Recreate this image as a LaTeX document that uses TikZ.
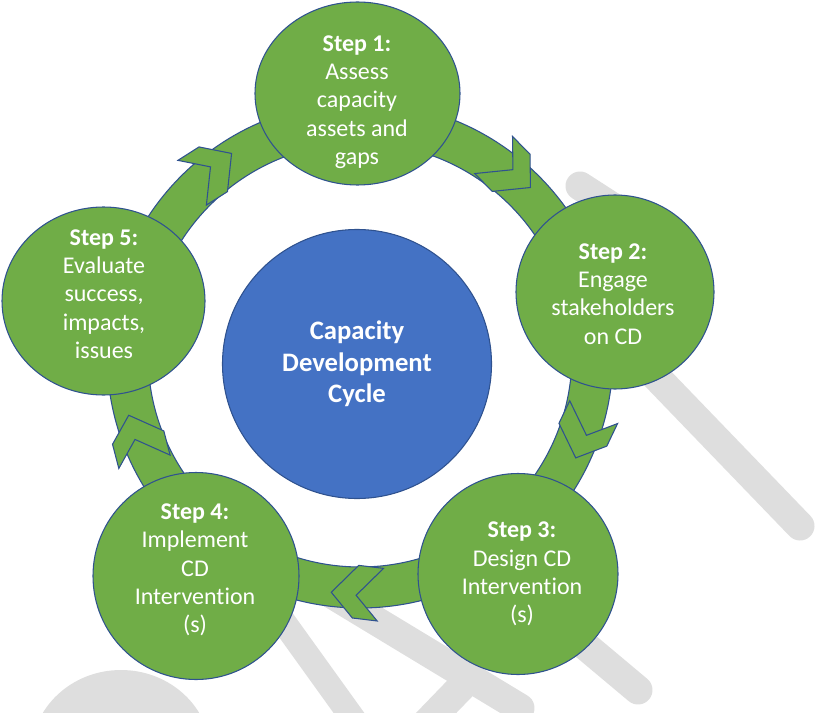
\documentclass[tikz,border=0pt]{standalone}
\usepackage{fontspec}
\setmainfont{Carlito}[Ligatures={NoCommon}]
\usetikzlibrary{calc, positioning}
\usetikzlibrary{shapes.geometric}

\definecolor{stepgreen}{RGB}{112,173,71}
\definecolor{cycleblue}{RGB}{68,114,196}
\definecolor{rimblue}{RGB}{47,82,143}
\definecolor{markgray}{RGB}{222,222,222}

\newlength\px
\setlength\px{0.75pt}

\tikzset{
  disk/.style={ellipse, draw=rimblue, fill=stepgreen, line width=0.8pt, inner sep=0pt},
  steptext/.style={text=white, align=center, font=\fontsize{18}{21.2}\selectfont},
  chevron/.style={draw=rimblue, fill=stepgreen, line width=0.8pt, line join=miter},
  wmbar/.style={draw=markgray, line width=29\px, line cap=round},
}

\begin{document}
\begin{tikzpicture}[x=0.75pt, y=0.75pt]
\def\rIn{212}
\def\rOut{253}

\useasboundingbox (0,0) rectangle (821,-713);

\coordinate (ringc) at (360,-355);

% faint strokes behind everything
\draw[wmbar] (580,-186) -- (625,-215);
\draw[wmbar] (640,-360) -- (800,-526);
\draw[wmbar] (545,-612) -- (638,-690);
\draw[wmbar, line width=25\px] (262,-592) -- (372,-745);
\draw[wmbar] (320,-587) -- (520,-708);
\draw[wmbar] (468,-680) -- (410,-740);
\fill[markgray] (121,-755) ellipse[x radius=90, y radius=85];

% the ring
\draw[line width=0.8pt, draw=rimblue, fill=stepgreen, even odd rule]
    (ringc) circle[radius=\rOut] (ringc) circle[radius=\rIn];

% double chevrons, clockwise
\foreach \a in {44.5,-25.5,-96.9,-165.4,122.5}{
  \begin{scope}[shift={(ringc)}, rotate=\a]
    \draw[chevron] (239,0) -- (262,24) -- (262,49) -- (239,25)
        -- (209,49) -- (209,24) -- cycle;
  \end{scope}
}

\node[circle, draw=rimblue, fill=cycleblue, line width=0.8pt, minimum size=269\px,
    inner sep=0pt, text=white, align=center,
    font=\bfseries\fontsize{20}{23.6}\selectfont] (cycle) at (357,-364)
    {Capacity\\Development\\Cycle};

\node[disk, minimum width=205\px, minimum height=183\px] (s1) at (357.5,-93.5) {};
\node[disk, minimum width=198\px, minimum height=194\px] (s2) at (615,-292) {};
\node[disk, minimum width=200\px, minimum height=201\px] (s3) at (518,-574) {};
\node[disk, minimum width=206\px, minimum height=207\px] (s4) at (196,-576) {};
\node[disk, minimum width=203\px, minimum height=188\px] (s5) at (103.5,-301) {};

\node[steptext] (s1text) at (357,-102) {\textbf{Step 1:}\\Assess\\capacity\\assets and\\gaps};
\node[steptext] (s2text) at (613,-294) {\textbf{Step 2:}\\Engage\\stakeholders\\on CD};
\node[steptext] (s3text) at (522,-574) {\textbf{Step 3:}\\Design CD\\Intervention\\(s)};
\node[steptext] (s4text) at (195,-570) {\textbf{Step 4:}\\Implement\\CD\\Intervention\\(s)};
\node[steptext] (s5text) at (104,-294) {\textbf{Step 5:}\\Evaluate\\success,\\impacts,\\issues};
\end{tikzpicture}
\end{document}
